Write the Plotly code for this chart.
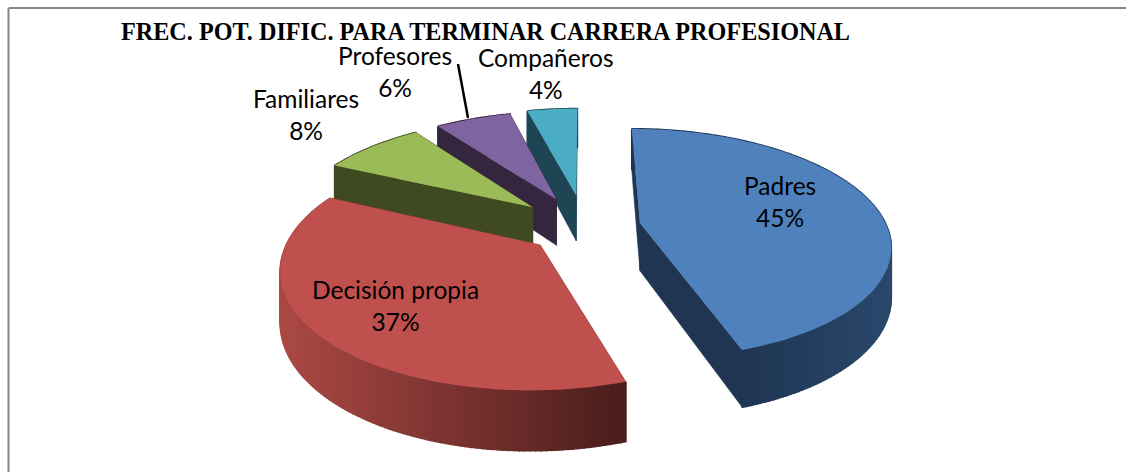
import math
import plotly.graph_objects as go

categories = ["Padres", "Decisión propia", "Familiares", "Profesores", "Compañeros"]
values = [45, 37, 8, 6, 4]
title_text = "FREC. POT. DIFIC. PARA TERMINAR CARRERA PROFESIONAL"

top_colors = ["#4f81bd", "#c0504d", "#9bbb59", "#8064a2", "#4bacc6"]
side_colors = ["#1f3552", "#8a3a37", "#3f4a20", "#352640", "#1d4553"]
pulls = [56, 58, 70, 70, 74]
label_pos = [(780, 201), (395, 305), (306, 114), (395, 71), (546, 73)]

W, H = 1126, 472
CX, CY = 585, 227
R, K, P, DEPTH = 247, 0.455, 0.00072, 48
START = 0.0


def project(X, Y, z=0.0):
    f = 1 / (1 + P * Y)
    return CX + X * f, CY - Y * K * f + z * f


def mix(a, b, t):
    t = max(0.0, min(1.0, t))
    return "rgb(%d,%d,%d)" % tuple(round(a[i] + (b[i] - a[i]) * t) for i in range(3))


def wall_color(i, x):
    if i == 1:
        return mix((170, 72, 68), (74, 30, 28), (x - 285) / 335)
    if i == 0:
        return mix((31, 53, 82), (42, 72, 108), (x - 740) / 150)
    return side_colors[i]


total = sum(values)
spans = []
a = START
for v in values:
    b = a + v / total * 360
    spans.append((a, b))
    a = b

fig = go.Figure()


def poly(pts, color, name, lw=0.6):
    fig.add_trace(go.Scatter(
        x=[p[0] for p in pts] + [pts[0][0]], y=[p[1] for p in pts] + [pts[0][1]],
        mode="lines", fill="toself", fillcolor=color,
        line=dict(color=color, width=lw), name=name,
        hoverinfo="skip", showlegend=False))


for i in [4, 3, 2, 1, 0]:
    a, b = spans[i]
    mid = math.radians((a + b) / 2)
    Ax, Ay = pulls[i] * math.sin(mid), pulls[i] * math.cos(mid)
    n = max(6, int(b - a))
    plane = []
    for k in range(n + 1):
        t = math.radians(a + (b - a) * k / n)
        plane.append((Ax + R * math.sin(t), Ay + R * math.cos(t)))
    # radial side walls
    for edge in (plane[0], plane[-1]):
        poly([project(Ax, Ay), project(*edge), project(*edge, DEPTH), project(Ax, Ay, DEPTH)],
             side_colors[i], categories[i])
    # outer wall, shaded segment by segment
    for k in range(n):
        p, q = plane[k], plane[k + 1]
        pts = [project(*p), project(*q), project(*q, DEPTH), project(*p, DEPTH)]
        poly(pts, wall_color(i, (pts[0][0] + pts[1][0]) / 2), categories[i], lw=1.5)
    # top face
    poly([project(Ax, Ay)] + [project(*p) for p in plane], top_colors[i], categories[i], lw=0)

annotations = []
for c, v, (x, y) in zip(categories, values, label_pos):
    annotations.append(dict(
        x=x, y=y, xref="x", yref="y", showarrow=False, align="center",
        text=f"{c}<br>{round(v / total * 100)}%",
        font=dict(family="Lato, Carlito, sans-serif", size=24.5, color="#000000")))

shapes = [
    dict(type="line", xref="x", yref="y", x0=458, y0=64, x1=468, y1=118, line=dict(color="#000000", width=2.5)),
    dict(type="line", xref="x", yref="y", x0=8.5, y0=8, x1=1126, y1=8, line=dict(color="#868686", width=2)),
    dict(type="line", xref="x", yref="y", x0=8.5, y0=8, x1=8.5, y1=472, line=dict(color="#868686", width=2)),
]

fig.update_layout(
    width=W, height=H, autosize=False,
    margin=dict(l=0, r=0, t=0, b=0),
    paper_bgcolor="#ffffff", plot_bgcolor="#ffffff",
    xaxis=dict(range=[0, W], visible=False, fixedrange=True),
    yaxis=dict(range=[H, 0], visible=False, fixedrange=True),
    title=dict(text=f"<b>{title_text}</b>", x=485.5 / W, xanchor="center", y=1 - 32 / H, yanchor="middle",
               font=dict(family="Liberation Serif", size=24.2, color="#000000")),
    annotations=annotations, shapes=shapes, showlegend=False,
)
fig.write_html("out.html", config=dict(displayModeBar=False),
               post_script="document.body.style.margin='0';document.body.style.overflow='hidden';")
